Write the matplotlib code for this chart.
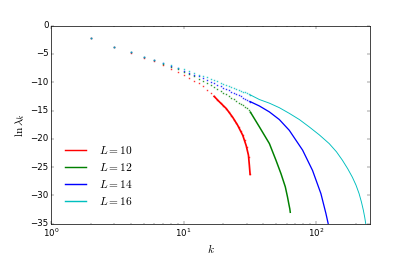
import matplotlib
matplotlib.use('Agg')
from matplotlib import pyplot as plt
from matplotlib.lines import Line2D

plt.style.use('classic')

# discrete eigenvalues, k = 2..32
k_dots = list(range(2, 33))
lam10 = [-2.1, -3.75, -4.75, -5.7, -6.3, -7.0, -7.6, -8.2, -8.75, -9.3, -9.7, -10.2, -10.7, -11.3,
         -11.9, -12.5, -13.1, -13.7, -14.2, -14.7, -15.3, -15.9, -16.6, -17.2, -17.9, -18.6, -19.4,
         -20.3, -21.5, -23.2, -26.3]
lam12 = [-2.1, -3.75, -4.7, -5.6, -6.1, -6.75, -7.25, -7.7, -8.15, -8.55, -8.95, -9.35, -9.8, -10.15,
         -10.5, -10.85, -11.2, -11.5, -11.85, -12.15, -12.45, -12.75, -13.05, -13.3, -13.6, -13.85,
         -14.1, -14.35, -14.6, -14.9, -15.3]
lam14 = [-2.1, -3.75, -4.7, -5.6, -6.05, -6.65, -7.1, -7.55, -7.95, -8.3, -8.65, -8.95, -9.3, -9.6,
         -9.9, -10.2, -10.45, -10.7, -10.95, -11.2, -11.45, -11.7, -11.9, -12.1, -12.3, -12.5, -12.7,
         -12.9, -13.1, -13.3, -13.45]
lam16 = [-2.1, -3.75, -4.7, -5.6, -6.0, -6.55, -7.0, -7.4, -7.7, -8.05, -8.35, -8.65, -8.9, -9.15,
         -9.4, -9.65, -9.85, -10.05, -10.25, -10.45, -10.65, -10.85, -11.0, -11.2, -11.35, -11.5,
         -11.65, -11.8, -11.95, -12.1, -12.25]

# dense tails, read as curves
k10_tail = [17, 18.7, 21, 23.5, 25.6, 28, 29.7, 30.9, 31.4, 31.8]
y10_tail = [-12.5, -13.5, -14.65, -16.2, -17.6, -19.4, -21.2, -22.9, -24.7, -26.3]
k12_tail = [32, 37.4, 44.5, 49.9, 54.5, 58.7, 61, 62.5, 63.5, 64]
y12_tail = [-15.3, -17.9, -20.85, -23.8, -26.2, -28.5, -30.3, -31.6, -32.4, -33.0]
k14_tail = [32, 37.4, 44.5, 52.9, 62.9, 79.3, 94.3, 109.1, 119, 123.8]
y14_tail = [-13.45, -14.2, -15.25, -16.6, -18.5, -22.0, -25.6, -29.7, -33.2, -35.0]
k16_tail = [32, 37.4, 44.5, 52.9, 62.9, 75, 89, 106, 126, 143, 158.7, 174, 188.7, 201, 212.1, 221,
            228.5, 234, 238]
y16_tail = [-12.25, -13.06, -13.7, -14.5, -15.5, -16.6, -17.9, -19.3, -20.85, -22.3, -23.8, -25.3,
            -26.8, -28.2, -29.7, -31.2, -32.65, -33.9, -35.0]

labels = [r'$L=10$', r'$L=12$', r'$L=14$', r'$L=16$']
colors = ['r', 'g', 'b', 'c']

fig = plt.figure(figsize=(411 / 51.4, 5), dpi=51.4, facecolor='white')
fig.subplots_adjust(left=0.125, right=0.9, top=0.9, bottom=0.13)
ax = fig.add_subplot(111)

dots = [lam10, lam12, lam14, lam16]
tails = [(k10_tail, y10_tail, 2.4), (k12_tail, y12_tail, 2.1),
         (k14_tail, y14_tail, 1.8), (k16_tail, y16_tail, 1.3)]
for lam, (kt, yt, lw), c in zip(dots, tails, colors):
    ax.plot(k_dots, lam, 's', ms=2.0, mew=0, color=c, alpha=0.8)
    ax.plot(kt, yt, '-', lw=lw, color=c)

ax.set_xscale('log')
ax.set_xlim(1, 256)
ax.set_ylim(-35, 0)
ax.set_xlabel(r'$k$', fontsize=16)
ax.set_ylabel(r'$\ln\lambda_k$', fontsize=16)

handles = [Line2D([], [], color=c, lw=2) for c in colors]
ax.legend(handles, labels, loc='lower left', bbox_to_anchor=(0.0, 0.03),
          frameon=False, fontsize=16, handlelength=2.4, handletextpad=0.9,
          labelspacing=0.45)

fig.savefig('out.png', dpi=51.4, facecolor='white')
